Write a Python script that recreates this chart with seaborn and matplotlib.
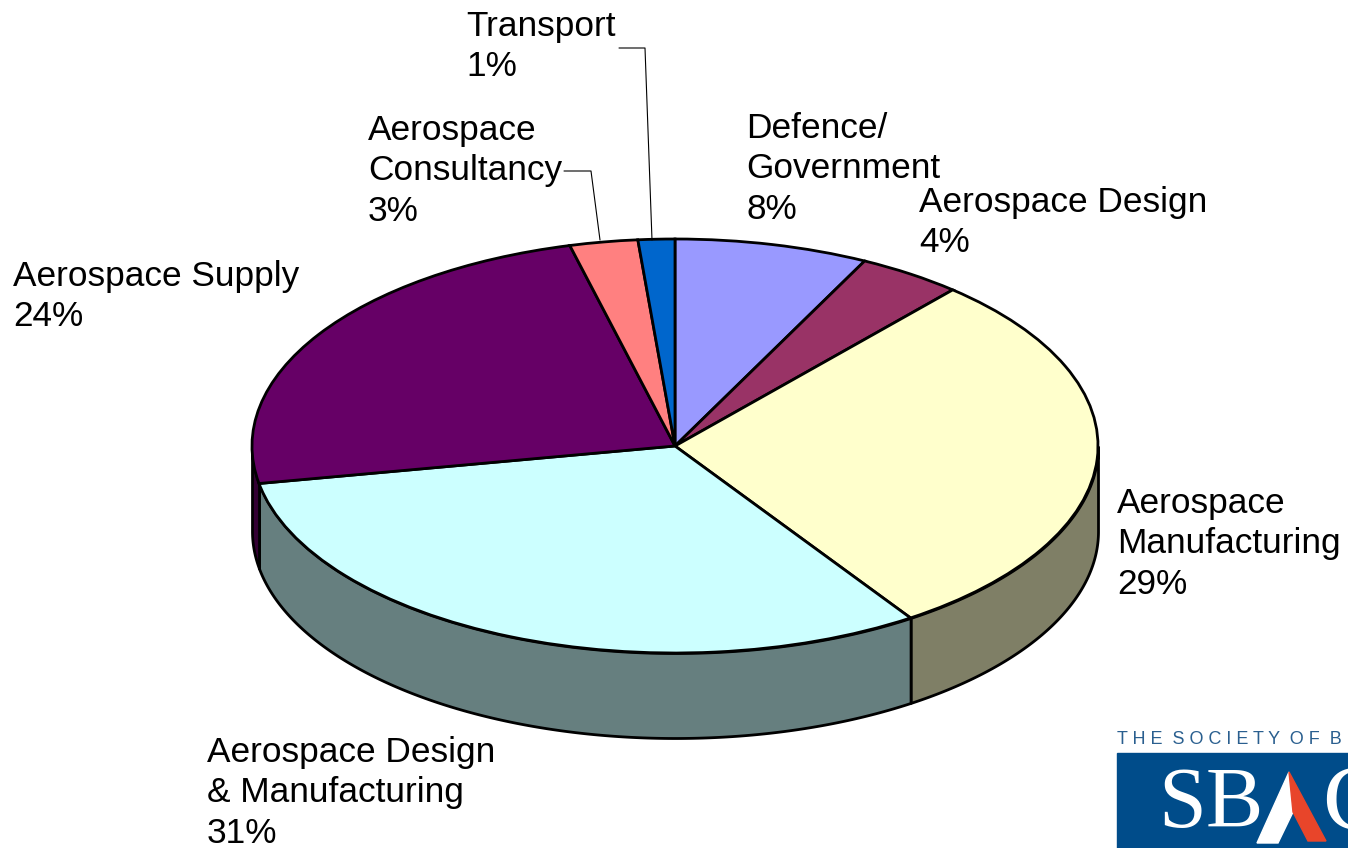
import numpy as np
import seaborn as sns
from matplotlib import pyplot as plt
from matplotlib.patches import Polygon, Rectangle

names = ['Defence/\nGovernment\n8%', 'Aerospace Design\n4%', 'Aerospace\nManufacturing\n29%',
         'Aerospace Design\n& Manufacturing\n31%', 'Aerospace Supply\n24%',
         'Aerospace\nConsultancy\n3%', 'Transport\n1%']
shares = [7.4, 4.0, 29.2, 31.5, 23.9, 2.6, 1.4]
top_colors = ['#9999FF', '#993366', '#FFFFCC', '#CCFFFF', '#660066', '#FF8080', '#0066CC']
side_colors = ['#4C4C7F', '#4C1933', '#7F7F66', '#667F7F', '#330033', '#7F4040', '#003366']
label_x = [746, 919, 1117, 207, 13, 368, 466]
label_y = [112, 186, 487, 736, 260, 114, 10]

W, H = 1348, 848
CX, CY, RX, RY, DEPTH = 675, 446, 423, 207, 85

sns.set_theme(style='white')
plt.rcParams['font.family'] = ['Liberation Sans', 'DejaVu Sans']

fig = plt.figure(figsize=(W / 100, H / 100), dpi=100)
ax = fig.add_axes([0, 0, 1, 1])

# side walls first, only the front half of the disc shows
d = DEPTH / RY
start = 90.0
for s, c in zip(shares, side_colors):
    end = start - s * 3.6
    t = np.linspace(end, start, 200)
    t = t[np.sin(np.radians(t)) <= 0]
    if len(t) > 1:
        x = np.cos(np.radians(t))
        y = np.sin(np.radians(t))
        ax.fill_between(x, y, y - d, color=c, ec='black', lw=2, zorder=1)
    start = end

ax.pie(shares, colors=top_colors, startangle=90, counterclock=False,
       wedgeprops={'edgecolor': 'black', 'linewidth': 2, 'zorder': 2})

# undo the equal aspect of pie so the circle becomes the tilted disc
ax.set_aspect('auto')
ax.set_xlim(-CX / RX, (W - CX) / RX)
ax.set_ylim((CY - H) / RY, CY / RY)
ax.axis('off')

# overlay in pixels for the labels, leaders and logo
over = fig.add_axes([0, 0, 1, 1], facecolor='none')
over.set_xlim(0, W)
over.set_ylim(H, 0)
over.axis('off')

for n, x, y in zip(names, label_x, label_y):
    over.text(x, y, n, fontsize=25.4, color='black', ha='left', va='top', linespacing=1.28)

over.plot([619, 645, 652], [48, 48, 240], color='black', lw=0.8)
over.plot([564, 591, 600], [171, 171, 240], color='black', lw=0.8)

# logo, cut by the picture edge
blue = '#004C8A'
over.text(1117, 739, 'T H E  S O C I E T Y  O F  B', fontsize=13, color='#2A5F8F', va='center', ha='left')
over.add_patch(Rectangle((1117, 753), 240, 100, color=blue))
over.text(1158, 806, 'SB', fontsize=62, family='Liberation Serif', color='white', va='center', ha='left')
over.add_patch(Polygon([(1289, 772), (1293, 812), (1278, 843), (1257, 843)], color='white'))
over.add_patch(Polygon([(1289, 772), (1326, 841), (1308, 841), (1293, 812)], color='#E8452A'))
over.text(1322, 806, 'C', fontsize=68, family='Liberation Serif', color='white', va='center', ha='left')

fig.savefig('out.png', dpi=100)
